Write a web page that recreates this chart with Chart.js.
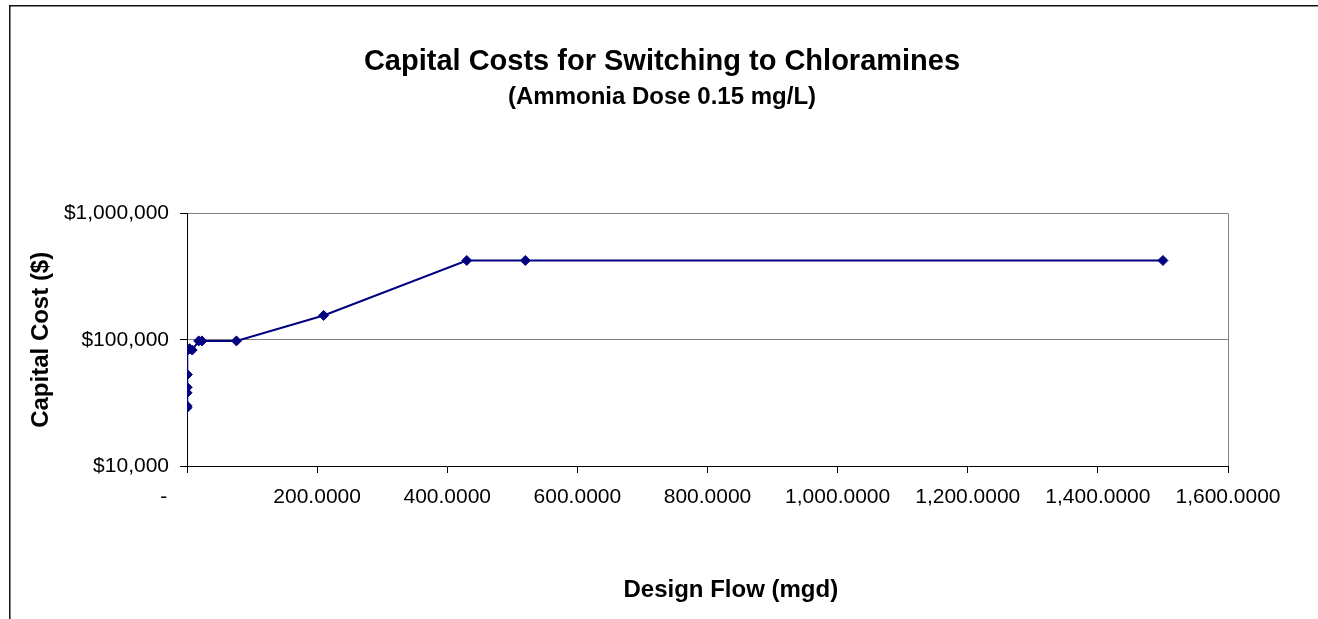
<!DOCTYPE html>
<html>
<head>
<meta charset="utf-8">
<script src="https://cdn.jsdelivr.net/npm/chart.js@4.4.1/dist/chart.umd.min.js"></script>
<style>
  body { margin: 0; background: #fff; }
  canvas { display: block; }
</style>
</head>
<body>
<canvas id="cost-chart" width="1318" height="619"></canvas>
<script>
/* capital cost chart - log scale scatter with line */

// design flow (mgd) and capital cost ($)
let flows = [0.01, 0.05, 0.1, 0.3, 0.6, 1, 4, 8, 18, 23, 76, 210, 430, 520, 1500];
let costs = [29000, 30000, 38000, 42000, 53000, 83000, 85000, 83000, 98000, 98000, 98000, 156000, 425000, 425000, 425000];

let yTicks = [10000, 100000, 1000000];
let xTicks = [0, 200, 400, 600, 800, 1000, 1200, 1400, 1600];

let titleText = "Capital Costs for Switching to Chloramines";
let subtitleText = "(Ammonia Dose 0.15 mg/L)";

let fontFamily = "Arial, 'Liberation Sans', sans-serif";

/***** outer frame + plot area right edge *****/
let framePlugin = {
    id: 'frame',
    beforeDraw: function(chart) {
        let ctx = chart.ctx;
        ctx.save();
        ctx.fillStyle = '#fff';
        ctx.fillRect(0, 0, chart.width, chart.height);
        ctx.strokeStyle = '#111';
        ctx.lineWidth = 1.5;
        ctx.strokeRect(9.75, 5.75, chart.width + 20, chart.height + 20);
        ctx.restore();
    },
    beforeDatasetsDraw: function(chart) {
        let ctx = chart.ctx;
        let a = chart.chartArea;
        ctx.save();
        ctx.strokeStyle = '#808080';
        ctx.lineWidth = 1;
        ctx.beginPath();
        ctx.moveTo(Math.round(a.right) + 0.5, a.top);
        ctx.lineTo(Math.round(a.right) + 0.5, a.bottom);
        ctx.stroke();
        ctx.restore();
    }
};

let points = flows.map(function(f, i) { return { x: f, y: costs[i] }; });

let costCanvas = document.getElementById("cost-chart");

let costChart = new Chart(costCanvas, {
    type: 'scatter',
    data: {
        datasets: [{
            data: points,
            showLine: true,
            borderColor: '#000080',
            backgroundColor: '#000080',
            borderWidth: 2,
            pointStyle: 'rectRot',
            pointRadius: 5,
            pointBorderWidth: 1,
            pointBorderColor: '#000080',
            pointBackgroundColor: '#000080'
        }]
    },
    options: {
        responsive: false,
        animation: false,
        devicePixelRatio: 1,
        layout: {
            padding: { left: 6, right: 0, top: 0, bottom: 0 }
        },
        plugins: {
            legend: { display: false },
            tooltip: { enabled: false },
            title: {
                display: true,
                text: titleText,
                color: '#000',
                font: { family: fontFamily, size: 29, weight: 'bold' },
                padding: { top: 45, bottom: 3 }
            },
            subtitle: {
                display: true,
                text: subtitleText,
                color: '#000',
                font: { family: fontFamily, size: 24, weight: 'bold' },
                padding: { top: 0, bottom: 102 }
            }
        },
        scales: {
            x: {
                type: 'linear',
                min: 0,
                max: 1600,
                afterBuildTicks: function(scale) {
                    scale.ticks = xTicks.map(function(v) { return { value: v }; });
                },
                afterFit: function(scale) {
                    scale.height = 153;
                },
                grid: {
                    drawOnChartArea: false,
                    tickLength: 7,
                    tickColor: '#000'
                },
                border: { color: '#000', width: 1 },
                ticks: {
                    autoSkip: false,
                    maxRotation: 0,
                    padding: 12,
                    color: '#000',
                    font: { family: fontFamily, size: 21 },
                    callback: function(v) {
                        if (v === 0) return '-        ';
                        return v.toLocaleString('en-US', { minimumFractionDigits: 4, maximumFractionDigits: 4 });
                    }
                },
                title: {
                    display: true,
                    text: '       Design Flow (mgd)',
                    color: '#000',
                    font: { family: fontFamily, size: 24, weight: 'bold' },
                    padding: { top: 0, bottom: 14 }
                }
            },
            y: {
                type: 'logarithmic',
                min: 10000,
                max: 1000000,
                afterBuildTicks: function(scale) {
                    scale.ticks = yTicks.map(function(v) { return { value: v }; });
                },
                afterFit: function(scale) {
                    scale.width = 181;
                },
                grid: {
                    color: function(c) {
                        return c.tick && c.tick.value > 10000 ? '#808080' : 'rgba(0,0,0,0)';
                    },
                    tickColor: '#000',
                    tickLength: 7
                },
                border: { color: '#000', width: 1 },
                ticks: {
                    padding: 11,
                    color: '#000',
                    font: { family: fontFamily, size: 21 },
                    callback: function(v) {
                        return '$' + v.toLocaleString('en-US');
                    }
                },
                title: {
                    display: true,
                    text: 'Capital Cost ($)',
                    color: '#000',
                    font: { family: fontFamily, size: 24, weight: 'bold' },
                    padding: { top: 21, bottom: 0 }
                }
            },
            // empty right axis, only keeps the plot area clear of the right edge
            yRight: {
                type: 'linear',
                position: 'right',
                display: true,
                grid: { display: false },
                border: { display: false },
                ticks: { display: false },
                afterFit: function(scale) {
                    scale.width = 90;
                }
            }
        }
    },
    plugins: [framePlugin]
});
</script>
</body>
</html>
